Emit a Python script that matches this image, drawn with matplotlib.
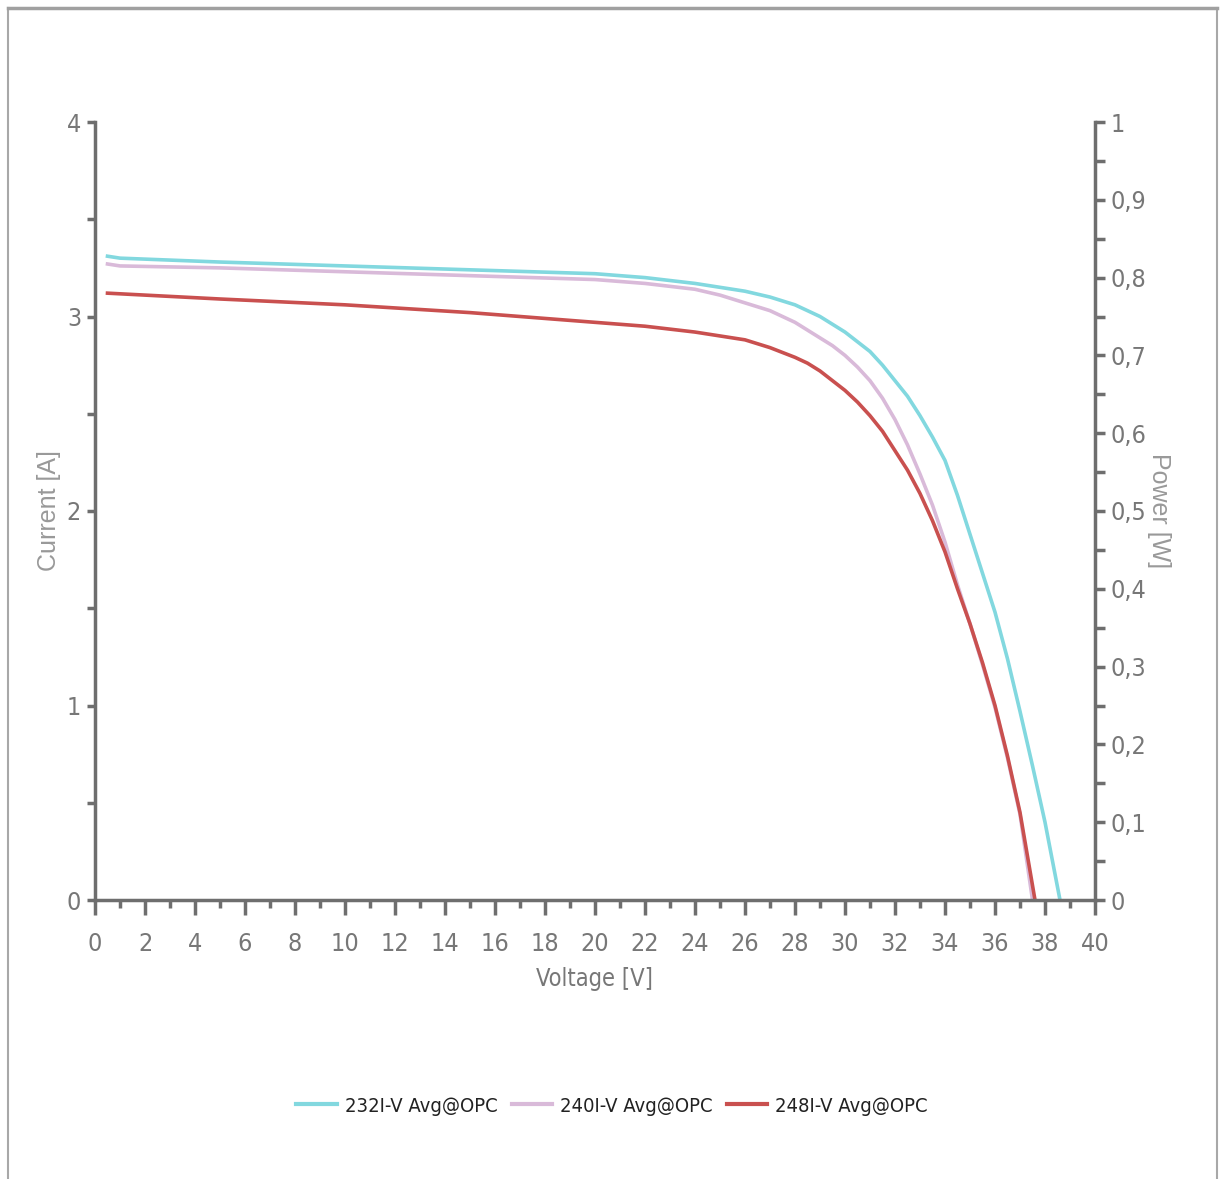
import matplotlib.pyplot as plt
from matplotlib.ticker import MultipleLocator, FuncFormatter
from matplotlib.lines import Line2D

plt.rcParams['font.family'] = ['Liberation Sans Narrow', 'DejaVu Sans']
plt.rcParams['font.stretch'] = 'condensed'

# voltage [V] / current [A]
v_232 = [0.5, 1.0, 5, 10, 15, 20, 22, 24, 26, 27, 28, 28.5, 29, 29.5, 30, 30.5, 31, 31.5, 32, 32.5,
         33, 33.5, 34, 34.5, 35, 35.5, 36, 36.5, 37, 37.5, 38, 38.6]
i_232 = [3.31, 3.30, 3.28, 3.26, 3.24, 3.22, 3.20, 3.17, 3.13, 3.10, 3.06, 3.03, 3.00, 2.96, 2.92, 2.87,
         2.82, 2.75, 2.67, 2.59, 2.49, 2.38, 2.26, 2.08, 1.88, 1.68, 1.48, 1.24, 0.97, 0.69, 0.40, 0.0]

v_240 = [0.5, 1.0, 5, 10, 15, 20, 22, 24, 25, 26, 27, 28, 28.5, 29, 29.5, 30, 30.5, 31, 31.5, 32,
         32.5, 33, 33.5, 34, 34.5, 35, 35.5, 36, 36.5, 37, 37.5]
i_240 = [3.27, 3.26, 3.25, 3.23, 3.21, 3.19, 3.17, 3.14, 3.11, 3.07, 3.03, 2.97, 2.93, 2.89, 2.85, 2.80,
         2.74, 2.67, 2.58, 2.47, 2.34, 2.19, 2.03, 1.84, 1.62, 1.42, 1.21, 0.99, 0.73, 0.44, 0.0]

v_248 = [0.5, 2, 5, 10, 15, 20, 22, 24, 25, 26, 27, 28, 28.5, 29, 29.5, 30, 30.5, 31, 31.5, 32,
         32.5, 33, 33.5, 34, 34.5, 35, 35.5, 36, 36.5, 37, 37.6]
i_248 = [3.12, 3.11, 3.09, 3.06, 3.02, 2.97, 2.95, 2.92, 2.90, 2.88, 2.84, 2.79, 2.76, 2.72, 2.67, 2.62,
         2.56, 2.49, 2.41, 2.31, 2.21, 2.09, 1.95, 1.79, 1.60, 1.42, 1.22, 1.00, 0.74, 0.45, 0.0]

series = [
    ('232I-V Avg@OPC', v_232, i_232, '#82d8df'),
    ('240I-V Avg@OPC', v_240, i_240, '#d9bad9'),
    ('248I-V Avg@OPC', v_248, i_248, '#c9504f'),
]

axis_col = '#6e6e6e'
text_col = '#777777'
wide = ['Liberation Sans', 'DejaVu Sans']

fig = plt.figure(figsize=(12.25, 11.79), dpi=100)
ax = fig.add_axes([95 / 1225, 279 / 1179, 1000 / 1225, 778 / 1179])

for name, v, i, col in series:
    ax.plot(v, i, color=col, lw=2.6, label=name)

ax.set_xlim(0, 40)
ax.set_ylim(0, 4)

for s in ['top', 'right']:
    ax.spines[s].set_visible(False)
for s in ['left', 'bottom']:
    ax.spines[s].set_color(axis_col)
    ax.spines[s].set_linewidth(2.5)

ax.xaxis.set_major_locator(MultipleLocator(2))
ax.xaxis.set_minor_locator(MultipleLocator(1))
ax.yaxis.set_major_locator(MultipleLocator(1))
ax.yaxis.set_minor_locator(MultipleLocator(0.5))
ax.tick_params(axis='x', which='major', length=11, width=2.5, color=axis_col,
               labelsize=18, labelcolor=text_col, pad=12)
ax.tick_params(axis='x', which='minor', length=6, width=2.5, color=axis_col)
ax.tick_params(axis='y', which='both', length=6, width=2.5, color=axis_col,
               labelsize=18, labelcolor=text_col, pad=4)

ax.set_xlabel('Voltage [V]', fontsize=17, color=text_col, labelpad=8)
ax.set_ylabel('Current [A]', fontsize=18, color='#999999',
              family=wide, stretch='normal', va='center', ha='center')
ax.yaxis.set_label_coords(-0.046, 0.5)

ax2 = ax.twinx()
ax2.set_ylim(0, 1)
for s in ['top', 'left', 'bottom']:
    ax2.spines[s].set_visible(False)
ax2.spines['right'].set_color(axis_col)
ax2.spines['right'].set_linewidth(2.5)
ax2.yaxis.set_major_locator(MultipleLocator(0.1))
ax2.yaxis.set_minor_locator(MultipleLocator(0.05))
ax2.yaxis.set_major_formatter(FuncFormatter(lambda y, p: ('%g' % round(y, 2)).replace('.', ',')))
ax2.tick_params(axis='y', which='both', length=7, width=2.5, color=axis_col,
                labelsize=18, labelcolor=text_col, pad=4)
ax2.set_ylabel('Power [W]', fontsize=18, color='#999999', rotation=-90,
               family=wide, stretch='normal', va='center', ha='center')
ax2.yaxis.set_label_coords(1.064, 0.5)

handles = [Line2D([], [], color=c, lw=3) for _, _, _, c in series]
fig.legend(handles, [n for n, _, _, _ in series], loc='center', ncol=3,
           bbox_to_anchor=(612 / 1225, 1 - 1106 / 1179), frameon=False,
           fontsize=14.5, handlelength=2.0, handletextpad=0.4, columnspacing=0.7,
           labelcolor='#222222')

# outer frame of the panel
fig.add_artist(Line2D([8 / 1225, 8 / 1225], [0, 1 - 8 / 1179], color='#a8a8a8', lw=1.5))
fig.add_artist(Line2D([1217 / 1225, 1217 / 1225], [0, 1 - 8 / 1179], color='#a8a8a8', lw=1.5))
fig.add_artist(Line2D([8 / 1225, 1217 / 1225], [1 - 8 / 1179, 1 - 8 / 1179], color='#a0a0a0', lw=2.5))

fig.savefig('out.png', dpi=100)
